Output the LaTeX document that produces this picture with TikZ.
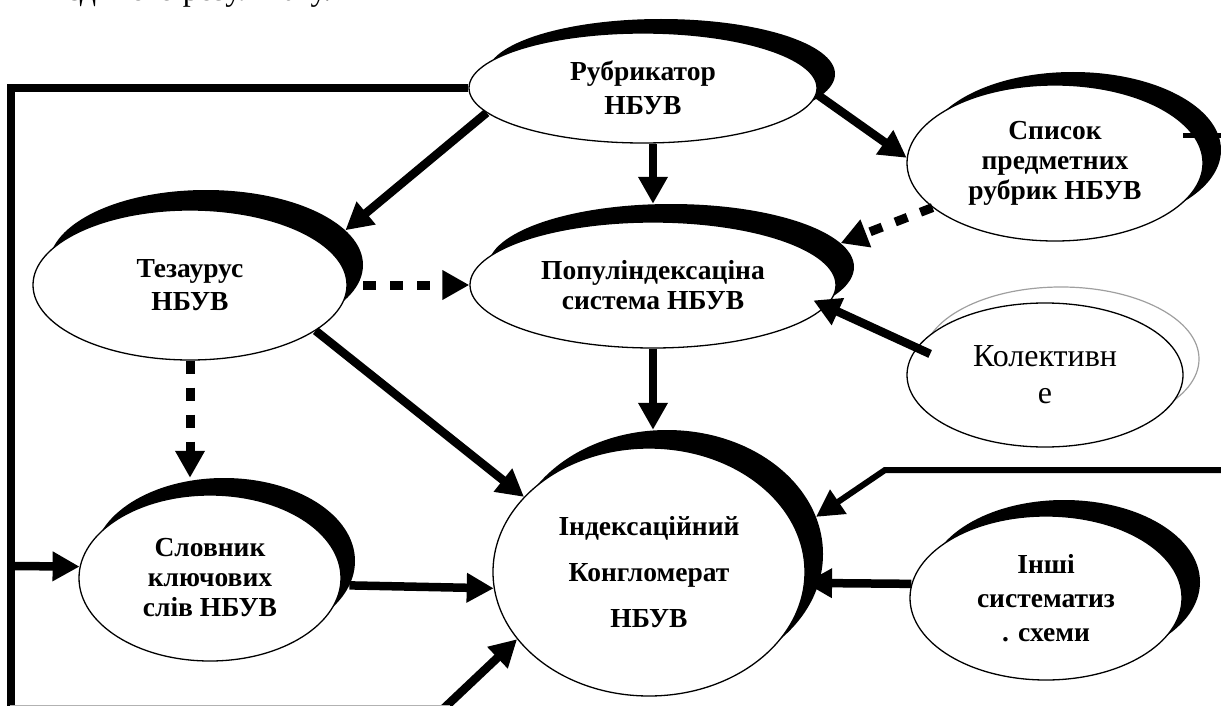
\documentclass[tikz,border=0pt]{standalone}
\usepackage{fontspec}
\setmainfont{Liberation Serif}
\usetikzlibrary{arrows.meta,shapes.geometric,calc}

\begin{document}
\begin{tikzpicture}[x=1pt,y=-1pt,
  ell/.style={ellipse, draw=black, line width=1.3pt, fill=white, inner sep=0pt, align=center},
  bf/.style={font=\fontsize{27.5}{#1}\selectfont\bfseries},
  shd/.style={ellipse, fill=black, inner sep=0pt},
  sz/.style 2 args={minimum width=#1pt, minimum height=#2pt},
  conn/.style={line width=8.5pt, -{Triangle[length=27pt,width=28pt]}},
  dconn/.style={conn, line width=9pt, dash pattern=on 13pt off 14pt},
  plain/.style={line width=8pt}
]
\useasboundingbox (0,0) rectangle (1221,706);

% clipped text line at the top (only its lowest part lies on the page)
\node[anchor=base west, inner sep=0pt, font=\fontsize{32}{38}\selectfont] (toptext) at (66,1) {єдиного результату.};

% shadows
\node[shd, sz={348}{110}] (rubrs) at (661,74) {};
\node[shd, sz={366}{126}] (populs) at (671,267) {};
\node[shd, sz={314}{150}] (tezs) at (206,265) {};
\node[shd, sz={296}{156}] (spiss) at (1073,150) {};
\node[shd, sz={262}{166}] (slovs) at (224,561) {};
\node[shd, sz={312}{248}] (inds) at (667,554) {};
\node[shd, sz={272}{164}] (inshs) at (1064,582) {};
\node[ellipse, draw=gray!75, line width=1.2pt, inner sep=0pt, sz={276}{144}] (kols) at (1061,359) {};

% main ellipses
\node[ell, bf=34, sz={348}{110}] (rubr) at (643,88) {Рубрикатор\\НБУВ};
\node[ell, bf=30, sz={366}{126}] (popul) at (653,285) {Популіндексаціна\\система НБУВ};
\node[ell, bf=33, sz={314}{150}] (tez) at (190,285) {Тезаурус\\НБУВ};
\node[ell, bf=30, sz={296}{156}] (spis) at (1055,163) {Список\\предметних\\рубрик НБУВ};
\node[ell, bf=30, sz={262}{166}] (slov) at (210,578) {Словник\\ключових\\слів НБУВ};
\node[ell, bf=46, sz={312}{248}] (ind) at (649,572) {Індексаційний\\Конгломерат\\НБУВ};
\node[ell, bf=34, sz={272}{164}] (insh) at (1046,598) {Інші\\систематиз\\. схеми};
\node[ell, font=\fontsize{32}{37}\selectfont, sz={276}{144}] (kol) at (1045,375) {Колективн\\е};

% free ends
\coordinate (fb) at (11,715);
\coordinate (fl) at (11,566);
\coordinate (rr) at (1230,470);
\coordinate (rk) at (885,470);
\coordinate (bl) at (440,712);
\coordinate (sr) at (1230,136);
\coordinate (st) at (1183,136);
\coordinate (gl) at (10,705.3);
\coordinate (gr) at (450,705.3);

% connectors
\draw[plain] (rubr.west) -| (fb);
\draw[conn] (fl) -- (slov.175);
\draw[conn] (rubr.189) -- (tezs.14);
\draw[conn] (popul.north |- rubr.south) -- (popul.north |- populs.north);
\draw[conn] (rubr.-2) -- (spis.178);
\draw[dconn] (tezs.east |- popul.west) -- (popul.west);
\draw[dconn] (tez.south) -- (tez.south |- slovs.north);
\draw[conn] (tez.-20) -- (ind.149);
\draw[conn] (popul.south) -- (popul.south |- inds.north);
\draw[dconn] (spis.200) -- (populs.8);
\draw[conn, shorten <=-15pt, shorten >=-14pt] (kol.168) -- (popul.-7);
\draw[conn] (slovs.-11) -- (ind.186);
\draw[conn] (insh.174) -- (ind.-4);
\draw[conn, line width=6pt] (rr) -- (rk) -- (inds.14);
\draw[conn] (bl) -- (ind.207);
\draw[line width=5pt] (sr) -- (st);
\draw[gray!60, line width=1.5pt] (gl) -- (gr);
\end{tikzpicture}
\end{document}
